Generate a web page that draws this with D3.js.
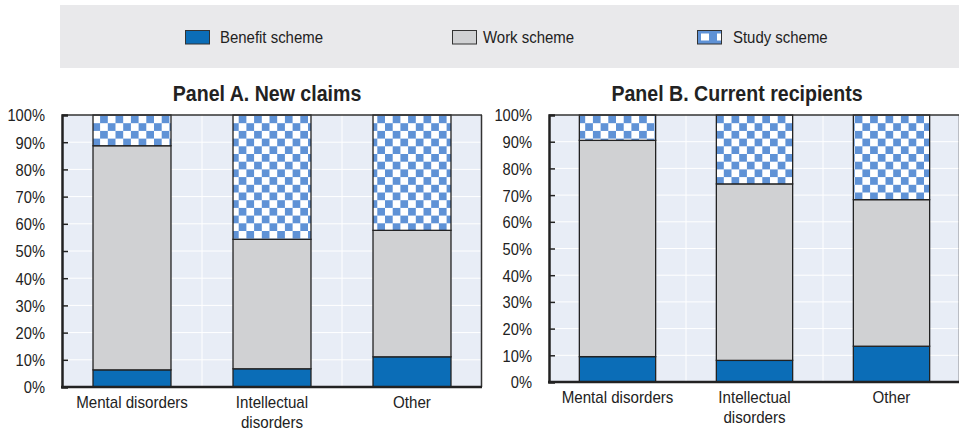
<!DOCTYPE html>
<html><head><meta charset="utf-8">
<script src="https://cdn.jsdelivr.net/npm/d3@7"></script>
<style>
html,body{margin:0;padding:0;background:#fff;}
svg{display:block;}
text{font-family:"Liberation Sans",Arial,sans-serif;fill:#222;}
</style></head>
<body>
<script>
// ---- data ----
const categories = [["Mental disorders"], ["Intellectual", "disorders"], ["Other"]];
const seriesNames = ["Benefit scheme", "Work scheme", "Study scheme"];
const panelTitles = ["Panel A. New claims", "Panel B. Current recipients"];
// values in % for each category: [benefit, work, study]
const panelABenefit = [6.3, 6.7, 11.1];
const panelAWork = [82.4, 47.6, 46.5];
const panelAStudy = [11.3, 45.7, 42.4];
const panelBBenefit = [9.5, 8.1, 13.4];
const panelBWork = [81.0, 66.1, 54.9];
const panelBStudy = [9.5, 25.8, 31.7];
const yTicks = [0, 10, 20, 30, 40, 50, 60, 70, 80, 90, 100];

const W = 959, H = 430;
const SX = 0.89; // horizontal condensing to mimic a narrow typeface
const colors = ["#0b6db7", "#d0d1d3", "url(#checker)"];

const svg = d3.select("body").append("svg").attr("width", W).attr("height", H);
const defs = svg.append("defs");
const pat = defs.append("pattern").attr("id", "checker").attr("patternUnits", "userSpaceOnUse")
  .attr("width", 15.4).attr("height", 15.4);
pat.append("rect").attr("width", 15.4).attr("height", 15.4).attr("fill", "#ffffff");
pat.append("rect").attr("x", 0).attr("y", 0).attr("width", 7.7).attr("height", 7.7).attr("fill", "#5f92d6");
pat.append("rect").attr("x", 7.7).attr("y", 7.7).attr("width", 7.7).attr("height", 7.7).attr("fill", "#5f92d6");

const patL = defs.append("pattern").attr("id", "checkerL").attr("patternUnits", "userSpaceOnUse")
  .attr("width", 16).attr("height", 14).attr("x", 697).attr("y", 30);
patL.append("rect").attr("width", 16).attr("height", 14).attr("fill", "#5f92d6");
patL.append("rect").attr("x", 4).attr("y", 3.5).attr("width", 8).attr("height", 7).attr("fill", "#ffffff");

function ctext(parent, x, y, size, anchor) {
  return parent.append("text").attr("transform", `translate(${x},${y}) scale(${SX},1)`)
    .attr("x", 0).attr("y", 0).attr("font-size", size).attr("text-anchor", anchor || "start");
}

// ---- legend ----
svg.append("rect").attr("x", 60).attr("y", 5).attr("width", W - 60).attr("height", 63).attr("fill", "#e9e9eb");
const legendPos = [{sx: 185, tx: 220}, {sx: 452, tx: 483}, {sx: 697, tx: 733}];
seriesNames.forEach((name, i) => {
  svg.append("rect").attr("x", legendPos[i].sx + 0.5).attr("y", 30.5).attr("width", 24).attr("height", 13.5)
    .attr("fill", i === 2 ? "url(#checkerL)" : colors[i]).attr("stroke", "#333").attr("stroke-width", 1);
  ctext(svg, legendPos[i].tx, 43, 16.8).text(name);
});

// ---- panels ----
const panels = [
  {title: panelTitles[0], b: panelABenefit, w: panelAWork, s: panelAStudy, x0: 62, x1: 482, y0: 115, y1: 387, tx: 267},
  {title: panelTitles[1], b: panelBBenefit, w: panelBWork, s: panelBStudy, x0: 549, x1: 960, y0: 115, y1: 382, tx: 737}
];

panels.forEach(p => {
  const g = svg.append("g");
  const x = d3.scaleBand().domain(d3.range(categories.length)).range([p.x0, p.x1]).paddingInner(0.443).paddingOuter(0.2215);
  const y = d3.scaleLinear().domain([0, 100]).range([p.y1, p.y0]);

  g.append("rect").attr("x", p.x0).attr("y", p.y0).attr("width", p.x1 - p.x0).attr("height", p.y1 - p.y0).attr("fill", "#e8edf6");
  // gridlines
  g.selectAll(".hg").data(yTicks.slice(1, -1)).join("line")
    .attr("x1", p.x0).attr("x2", p.x1).attr("y1", d => y(d)).attr("y2", d => y(d))
    .attr("stroke", "#ffffff").attr("stroke-width", 1);
  const step = x.step();
  g.selectAll(".vg").data([1, 2]).join("line")
    .attr("x1", d => p.x0 + d * step).attr("x2", d => p.x0 + d * step).attr("y1", p.y0).attr("y2", p.y1)
    .attr("stroke", "#ffffff").attr("stroke-width", 1);

  // stacks
  const rows = categories.map((c, i) => ({i, b: p.b[i], w: p.w[i], s: p.s[i]}));
  const stack = d3.stack().keys(["b", "w", "s"])(rows);
  stack.forEach((layer, li) => {
    g.selectAll(null).data(layer).join("rect")
      .attr("x", d => x(d.data.i)).attr("width", x.bandwidth())
      .attr("y", d => y(Math.min(d[1], 100))).attr("height", d => y(d[0]) - y(Math.min(d[1], 100)))
      .attr("fill", colors[li]).attr("stroke", "#222").attr("stroke-width", 1.3);
  });

  // frame
  g.append("line").attr("x1", p.x0).attr("x2", p.x1).attr("y1", p.y0).attr("y2", p.y0).attr("stroke", "#333").attr("stroke-width", 1.5);
  g.append("line").attr("x1", p.x1 - 0.5).attr("x2", p.x1 - 0.5).attr("y1", p.y0).attr("y2", p.y1).attr("stroke", "#333").attr("stroke-width", 1.5);

  // y axis
  const ya = d3.axisLeft(y).tickValues(yTicks).tickFormat(d => d + "%").tickSize(-6).tickPadding(17);
  const yg = g.append("g").attr("transform", `translate(${p.x0},0)`).call(ya);
  yg.select(".domain").attr("stroke", "#222").attr("stroke-width", 2.5);
  yg.selectAll(".tick line").attr("stroke", "#222").attr("stroke-width", 1.5);
  yg.selectAll(".tick text").attr("font-size", 16.5).attr("fill", "#222")
    .attr("font-family", "'Liberation Sans',Arial,sans-serif")
    .attr("x", 0).attr("dy", "0.36em").attr("transform", `translate(-17,0) scale(${SX},1)`);
  yg.selectAll(".tick").filter(d => d === 0 || d === 100).select("line").remove();

  // x axis
  g.append("line").attr("x1", p.x0 - 1).attr("x2", p.x1).attr("y1", p.y1).attr("y2", p.y1).attr("stroke", "#222").attr("stroke-width", 2.5);
  categories.forEach((lines, i) => {
    const t = ctext(g, x(i) + x.bandwidth() / 2, p.y1 + 21, 17, "middle");
    lines.forEach((ln, k) => t.append("tspan").attr("x", 0).attr("dy", k === 0 ? 0 : 20).text(ln));
  });

  // title
  ctext(g, p.tx, 101, 22, "middle").attr("font-weight", "bold").text(p.title);
});
</script>
</body></html>
